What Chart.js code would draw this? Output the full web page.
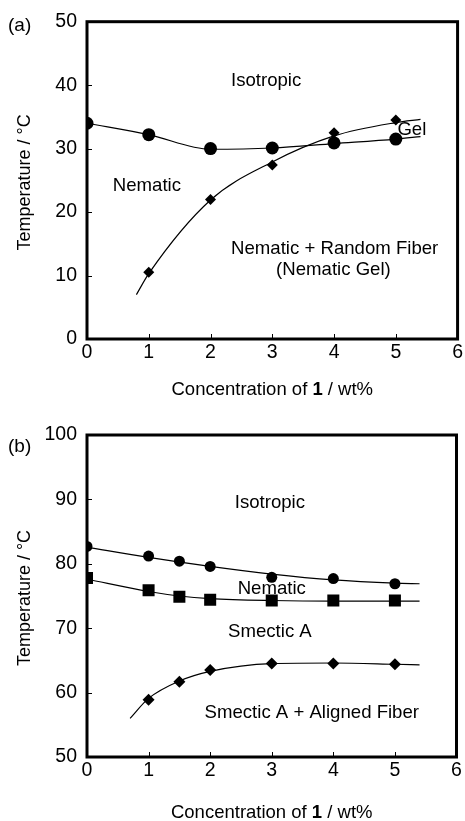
<!DOCTYPE html>
<html>
<head>
<meta charset="utf-8">
<script src="https://cdn.jsdelivr.net/npm/chart.js@4"></script>
<style>
  body { margin: 0; background: #fff; }
  canvas { display: block; }
</style>
</head>
<body>
<canvas id="chartA" width="465" height="410"></canvas>
<canvas id="chartB" width="465" height="411"></canvas>
<script>
// (a) measured points
const concA = [0, 1, 2, 3, 4, 5];
const isoTempA = [34, 32.2, 30, 30.1, 30.9, 31.5];
const gelConcA = [1, 2, 3, 4, 5];
const gelTempA = [10.5, 22, 27.4, 32.5, 34.5];
// (a) guide curves
const isoFitXA = [0, 1, 2, 3, 4, 5, 5.4];
const isoFitYA = [34, 32.2, 29.9, 30.1, 30.8, 31.5, 31.9];
const gelFitXA = [0.8, 1, 2, 3, 4, 5, 5.4];
const gelFitYA = [7, 10.3, 21.9, 27.9, 32, 34.1, 34.6];

// (b) measured points
const concB = [0, 1, 1.5, 2, 3, 4, 5];
const isoTempB = [82.7, 81.2, 80.4, 79.6, 77.9, 77.7, 76.9];
const nemTempB = [77.8, 75.9, 74.9, 74.4, 74.3, 74.3, 74.3];
const fibConcB = [1, 1.5, 2, 3, 4, 5];
const fibTempB = [58.9, 61.7, 63.5, 64.5, 64.5, 64.4];
// (b) guide curves
const isoFitXB = [0, 1, 2, 3, 4, 5, 5.4];
const isoFitYB = [82.6, 81.0, 79.6, 78.4, 77.5, 77.0, 76.9];
const nemFitXB = [0, 1, 1.5, 2, 3, 4, 5, 5.4];
const nemFitYB = [77.6, 75.7, 75.0, 74.6, 74.3, 74.2, 74.2, 74.2];
const fibFitXB = [0.7, 1, 1.5, 2, 3, 4, 5, 5.4];
const fibFitYB = [56, 59.1, 61.8, 63.3, 64.5, 64.6, 64.4, 64.3];

const xTicks = [0, 1, 2, 3, 4, 5, 6];
const yTicksA = [0, 10, 20, 30, 40, 50];
const yTicksB = [50, 60, 70, 80, 90, 100];

const FONT = '"Liberation Sans", Arial, Helvetica, sans-serif';

function pts(xs, ys) {
  return xs.map((x, i) => ({ x: x, y: ys[i] }));
}

function markers(xs, ys, style, radius) {
  return {
    data: pts(xs, ys),
    showLine: false,
    pointStyle: style,
    pointRadius: radius,
    pointBackgroundColor: '#000',
    pointBorderColor: '#000',
    pointBorderWidth: 0
  };
}

function curve(xs, ys) {
  return {
    data: pts(xs, ys),
    showLine: true,
    borderColor: '#000',
    borderWidth: 1.2,
    pointRadius: 0,
    cubicInterpolationMode: 'monotone'
  };
}

// frame, inward tick marks and all free text
const decor = {
  id: 'decor',
  afterDraw(chart) {
    const ctx = chart.ctx;
    const a = chart.chartArea;
    const xs = chart.scales.x;
    const ys = chart.scales.y;
    const o = chart.options.plugins.decor;
    ctx.save();
    ctx.strokeStyle = '#000';
    ctx.lineWidth = 1;
    xs.ticks.forEach(t => {
      const px = Math.round(xs.getPixelForValue(t.value)) + 0.5;
      ctx.beginPath();
      ctx.moveTo(px, a.bottom);
      ctx.lineTo(px, a.bottom - 5);
      ctx.stroke();
    });
    ys.ticks.forEach(t => {
      const py = Math.round(ys.getPixelForValue(t.value)) + 0.5;
      ctx.beginPath();
      ctx.moveTo(a.left, py);
      ctx.lineTo(a.left + 5, py);
      ctx.stroke();
    });
    ctx.lineWidth = 3;
    ctx.strokeRect(a.left, a.top, a.right - a.left, a.bottom - a.top);

    ctx.fillStyle = '#000';
    ctx.textBaseline = 'middle';
    ctx.textAlign = 'center';
    ctx.font = '18.6px ' + FONT;
    o.labels.forEach(l => {
      ctx.fillText(l.text, xs.getPixelForValue(l.x), ys.getPixelForValue(l.y));
    });

    // panel letter
    ctx.textAlign = 'left';
    ctx.font = '19px ' + FONT;
    ctx.fillText(o.panel, 8, o.panelY);

    // x title with bold "1"
    const parts = [['Concentration of ', '18.5px '], ['1', 'bold 18.5px '], [' / wt%', '18.5px ']];
    let w = 0;
    parts.forEach(p => { ctx.font = p[1] + FONT; w += ctx.measureText(p[0]).width; });
    let x = (a.left + a.right) / 2 - w / 2;
    parts.forEach(p => {
      ctx.font = p[1] + FONT;
      ctx.fillText(p[0], x, o.xTitleY);
      x += ctx.measureText(p[0]).width;
    });

    // y title
    ctx.translate(25, (a.top + a.bottom) / 2 + 2);
    ctx.rotate(-Math.PI / 2);
    ctx.textAlign = 'center';
    ctx.font = '18px ' + FONT;
    ctx.fillText('Temperature / °C', 0, 0);
    ctx.restore();
  }
};

function makeChart(id, datasets, yTicks, pad, xHeight, extra) {
  const ctx = document.getElementById(id).getContext('2d');
  return new Chart(ctx, {
    type: 'scatter',
    data: { datasets: datasets },
    options: {
      responsive: false,
      animation: false,
      events: [],
      layout: { padding: pad },
      plugins: {
        legend: { display: false },
        tooltip: { enabled: false },
        decor: extra
      },
      scales: {
        x: {
          type: 'linear',
          min: xTicks[0],
          max: xTicks[xTicks.length - 1],
          afterBuildTicks: s => { s.ticks = xTicks.map(v => ({ value: v })); },
          afterFit: s => { s.height = xHeight; },
          grid: { display: false, drawTicks: false },
          border: { display: false },
          ticks: { color: '#000', padding: 2, font: { family: FONT, size: 19.5 } }
        },
        y: {
          type: 'linear',
          min: yTicks[0],
          max: yTicks[yTicks.length - 1],
          afterBuildTicks: s => { s.ticks = yTicks.map(v => ({ value: v })); },
          afterFit: s => { s.width = 87; },
          grid: { display: false, drawTicks: false },
          border: { display: false },
          ticks: { color: '#000', padding: 10, font: { family: FONT, size: 19.5 } }
        }
      }
    },
    plugins: [decor]
  });
}

makeChart('chartA', [
  curve(isoFitXA, isoFitYA),
  curve(gelFitXA, gelFitYA),
  markers(concA, isoTempA, 'circle', 6.5),
  markers(gelConcA, gelTempA, 'rectRot', 5.5)
], yTicksA, { top: 18, right: 6, left: 0, bottom: 0 }, 71, {
  panel: '(a)', panelY: 26, xTitleY: 390,
  labels: [
    { text: 'Isotropic', x: 2.9, y: 40.6 },
    { text: 'Nematic', x: 0.97, y: 24.1 },
    { text: 'Gel', x: 5.26, y: 32.9 },
    { text: 'Nematic + Random Fiber', x: 4.01, y: 14.2 },
    { text: '(Nematic Gel)', x: 3.99, y: 10.9 }
  ]
});

makeChart('chartB', [
  curve(isoFitXB, isoFitYB),
  curve(nemFitXB, nemFitYB),
  curve(fibFitXB, fibFitYB),
  markers(concB, isoTempB, 'circle', 5.5),
  markers(concB, nemTempB, 'rect', 8.5),
  markers(fibConcB, fibTempB, 'rectRot', 6)
], yTicksB, { top: 25, right: 6, left: 0, bottom: 0 }, 64, {
  panel: '(b)', panelY: 37, xTitleY: 403,
  labels: [
    { text: 'Isotropic', x: 2.97, y: 89.5 },
    { text: 'Nematic', x: 3.0, y: 76.1 },
    { text: 'Smectic A', x: 2.97, y: 69.4 },
    { text: 'Smectic A + Aligned Fiber', x: 3.65, y: 56.8 }
  ]
});
</script>
</body>
</html>
